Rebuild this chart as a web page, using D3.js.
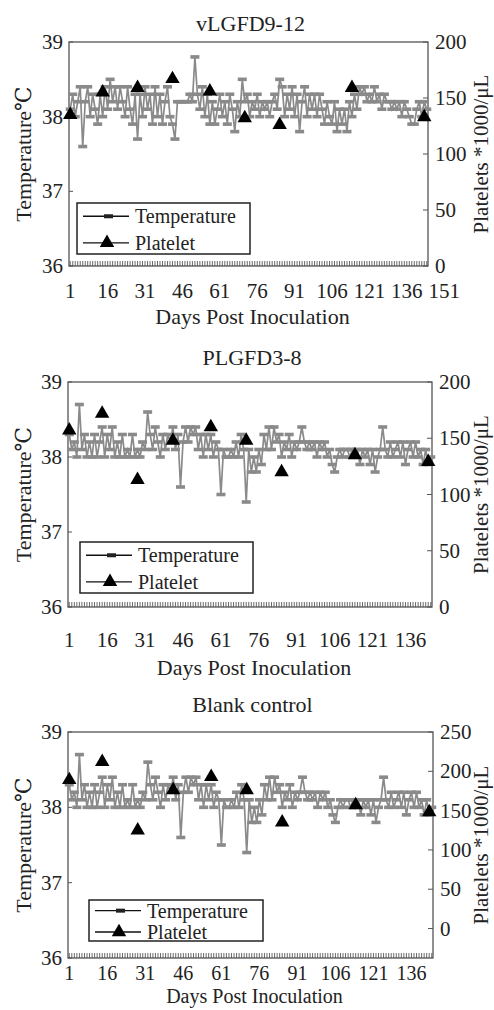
<!DOCTYPE html>
<html lang="en">
<head>
<script src="https://d3js.org/d3.v7.min.js"></script>
<style>
  body { margin: 0; background: #fff; }
  .frame { fill: none; stroke: #555; stroke-width: 1.3px; }
  .temp-line { fill: none; stroke: #8a8a8a; stroke-width: 1.7px; }
  .temp-mark { fill: #8a8a8a; }
  .plt-mark { fill: #000; }
</style>
</head>
<body>
<svg id="chart" width="494" height="1010" font-family="'Liberation Serif', 'DejaVu Serif', serif" fill="#222"></svg>
<script>
// days of temperature readings
const days = d3.range(1, 145);

// vLGFD9-12 temperature (°C)
const temp1 = [
  38.1, 38.3, 38.0, 38.2, 38.4, 37.6, 38.2, 38.4, 38.0, 38.3,
  38.1, 37.9, 38.3, 38.0, 38.4, 38.1, 38.5, 38.2, 38.4, 38.1,
  38.4, 38.2, 38.0, 38.4, 38.1, 37.9, 38.3, 37.7, 38.3, 38.0,
  38.4, 38.1, 38.3, 37.9, 38.4, 38.0, 38.3, 37.9, 38.2, 38.4,
  38.0, 37.9, 37.7, 38.2, 38.2, 38.2, 38.2, 38.2, 38.3, 38.2,
  38.8, 38.3, 38.1, 38.4, 38.0, 38.3, 37.9, 38.2, 37.9, 38.1,
  38.3, 38.0, 38.2, 37.9, 38.3, 38.1, 37.8, 38.2, 38.0, 38.5,
  38.2, 38.3, 38.0, 38.2, 38.1, 38.3, 38.0, 38.2, 38.1, 38.2,
  38.0, 38.2, 38.3, 38.1, 38.5, 38.4, 38.0, 38.3, 38.1, 38.4,
  38.0, 38.3, 37.8, 38.2, 38.4, 38.0, 38.3, 38.1, 38.3, 38.0,
  38.3, 38.1, 37.9, 38.2, 38.0, 37.9, 38.2, 37.8, 38.1, 37.9,
  38.1, 37.8, 38.2, 38.0, 38.3, 38.1, 38.4, 38.3, 38.4, 38.2,
  38.3, 38.2, 38.4, 38.2, 38.3, 38.1, 38.3, 38.2, 38.2, 38.1,
  38.2, 38.1, 38.2, 38.0, 38.2, 38.1, 38.0, 37.9, 37.9, 38.1,
  38.2, 38.0, 38.2, 38.1
];

// PLGFD3-8 and blank control temperature (°C)
const temp2 = [
  38.3, 38.1, 38.2, 38.0, 38.7, 38.1, 38.3, 38.0, 38.2, 38.0,
  38.3, 38.0, 38.2, 38.4, 38.0, 38.3, 38.1, 38.4, 38.0, 38.2,
  38.0, 38.3, 38.0, 38.1, 38.0, 38.3, 38.0, 38.1, 38.0, 38.2,
  38.1, 38.6, 38.3, 38.1, 38.4, 38.2, 38.0, 38.3, 38.1, 38.3,
  38.2, 38.4, 38.1, 38.3, 37.6, 38.2, 38.4, 38.2, 38.4, 38.3,
  38.4, 38.1, 38.3, 38.0, 38.3, 38.1, 38.3, 38.0, 38.2, 38.1,
  37.5, 38.1, 38.0, 38.0, 38.1, 38.0, 38.2, 38.0, 38.3, 38.1,
  37.4, 38.1, 37.8, 38.0, 37.8, 38.1, 37.9, 38.3, 38.1, 38.4,
  38.1, 38.4, 38.2, 38.3, 38.0, 38.2, 38.1, 38.3, 38.0, 38.2,
  38.1, 38.2, 38.4, 38.2, 38.1, 38.2, 38.1, 38.2, 38.0, 38.2,
  38.1, 38.2, 38.0, 38.1, 37.9, 37.8, 38.0, 38.1, 38.0, 38.1,
  38.1, 38.0, 38.1, 38.0, 38.1, 37.9, 38.1, 38.0, 38.1, 37.9,
  38.1, 37.8, 38.0, 38.1, 38.4, 38.1, 38.0, 38.2, 38.0, 38.1,
  38.2, 38.0, 38.2, 37.9, 38.1, 38.2, 38.0, 38.2, 38.0, 38.1,
  37.9, 38.1, 37.9, 38.0
];

// platelet sampling days and counts (*1000/µL)
const pltDays = [1, 14, 28, 42, 57, 71, 85, 114, 143];
const plt1 = [135, 155, 159, 167, 156, 132, 126, 159, 133];
const plt2 = [157, 172, 113, 148, 160, 148, 120, 135, 129];
const plt3 = [189, 212, 125, 176, 193, 176, 135, 157, 148];

const titles = ["vLGFD9-12", "PLGFD3-8", "Blank control"];
const dayLabels1 = [1, 16, 31, 46, 61, 76, 91, 106, 121, 136, 151];
const dayLabels = [1, 16, 31, 46, 61, 76, 91, 106, 121, 136];
const tempTicks = [36, 37, 38, 39];
const pltTicks1 = [0, 50, 100, 150, 200];
const pltTicks3 = [0, 50, 100, 150, 200, 250];

const svg = d3.select("#chart");

const panels = [
  { title: titles[0], temp: temp1, plt: plt1, pDomain: [0, 200], pTicks: pltTicks1, xLabels: dayLabels1,
    left: 69, right: 428, top: 42, bottom: 266, titleY: 31, labY: 298, axTitleY: 324, labSize: 21, axSize: 22,
    legend: { x: 77, y: 203, w: 173, h: 51 } },
  { title: titles[1], temp: temp2, plt: plt2, pDomain: [0, 200], pTicks: pltTicks1, xLabels: dayLabels,
    left: 68, right: 432, top: 382, bottom: 607, titleY: 365, labY: 647, axTitleY: 675, labSize: 21, axSize: 22,
    legend: { x: 80, y: 542, w: 173, h: 51 } },
  { title: titles[2], temp: temp2, plt: plt3, pDomain: [-37.5, 250], pTicks: pltTicks3, xLabels: dayLabels,
    left: 68, right: 433, top: 732, bottom: 958, titleY: 712, labY: 980, axTitleY: 1003, labSize: 20, axSize: 20,
    legend: { x: 89, y: 900, w: 174, h: 41 } }
];

panels.forEach(p => {
  const g = svg.append("g");
  const x = d3.scaleLinear().domain([0.5, 144.5]).range([p.left, p.right]);
  const y = d3.scaleLinear().domain([36, 39]).range([p.bottom, p.top]);
  const y2 = d3.scaleLinear().domain(p.pDomain).range([p.bottom, p.top]);

  // frame
  g.append("rect").attr("class", "frame")
    .attr("x", p.left).attr("y", p.top)
    .attr("width", p.right - p.left).attr("height", p.bottom - p.top);

  // day ticks along the bottom
  g.selectAll("line.dtick").data(days).join("line")
    .attr("x1", d => x(d)).attr("x2", d => x(d))
    .attr("y1", p.bottom).attr("y2", p.bottom - 5)
    .attr("stroke", "#444").attr("stroke-width", 0.8);

  g.selectAll("text.xl").data(p.xLabels).join("text")
    .attr("x", d => x(d)).attr("y", p.labY)
    .attr("text-anchor", "middle").attr("font-size", p.labSize)
    .text(d => d);

  // left axis
  g.selectAll("line.lt").data(tempTicks).join("line")
    .attr("x1", p.left).attr("x2", p.left + 4)
    .attr("y1", d => y(d)).attr("y2", d => y(d))
    .attr("stroke", "#555");
  g.selectAll("text.yl").data(tempTicks).join("text")
    .attr("x", p.left - 6).attr("y", d => y(d) + 7)
    .attr("text-anchor", "end").attr("font-size", 21)
    .text(d => d);

  // right axis
  g.selectAll("line.rt").data(p.pTicks).join("line")
    .attr("x1", p.right).attr("x2", p.right - 5)
    .attr("y1", d => y2(d)).attr("y2", d => y2(d))
    .attr("stroke", "#555");
  g.selectAll("text.yr").data(p.pTicks).join("text")
    .attr("x", p.right + 7).attr("y", d => y2(d) + 7)
    .attr("font-size", 21)
    .text(d => d);

  // titles
  g.append("text").attr("x", (p.left + p.right) / 2 + 2).attr("y", p.titleY)
    .attr("text-anchor", "middle").attr("font-size", 22).text(p.title);
  g.append("text").attr("x", (p.left + p.right) / 2 + 4).attr("y", p.axTitleY)
    .attr("text-anchor", "middle").attr("font-size", p.axSize).text("Days Post Inoculation");
  const midY = (p.top + p.bottom) / 2;
  g.append("text").attr("transform", `translate(31,${midY}) rotate(-90)`)
    .attr("text-anchor", "middle").attr("font-size", 22).text("Temperature℃");
  g.append("text").attr("transform", `translate(488,${midY}) rotate(-90)`)
    .attr("text-anchor", "middle").attr("font-size", 21).text("Platelets *1000/μL");

  // temperature series
  const tdata = days.map((d, i) => ({ day: d, v: p.temp[i] }));
  g.append("path").datum(tdata).attr("class", "temp-line")
    .attr("d", d3.line().x(d => x(d.day)).y(d => y(d.v)));
  g.selectAll("rect.tm").data(tdata).join("rect").attr("class", "temp-mark")
    .attr("x", d => x(d.day) - 4.5).attr("y", d => y(d.v) - 1.8)
    .attr("width", 9).attr("height", 3.6);

  // platelets
  const tri = d3.symbol(d3.symbolTriangle, 90);
  g.selectAll("path.pm").data(pltDays.map((d, i) => ({ day: d, v: p.plt[i] })))
    .join("path").attr("class", "plt-mark")
    .attr("transform", d => `translate(${x(d.day)},${y2(d.v)})`)
    .attr("d", tri);

  // legend
  const L = p.legend;
  const lg = g.append("g").attr("transform", `translate(${L.x},${L.y})`);
  lg.append("rect").attr("width", L.w).attr("height", L.h)
    .attr("fill", "#fff").attr("stroke", "#222").attr("stroke-width", 1.5);
  const r1 = L.h * 0.26, r2 = L.h * 0.78;
  [r1, r2].forEach(ry => lg.append("line").attr("x1", 6).attr("x2", 52)
    .attr("y1", ry).attr("y2", ry).attr("stroke", "#111").attr("stroke-width", 1.3));
  lg.append("rect").attr("x", 27).attr("y", r1 - 2).attr("width", 9).attr("height", 4).attr("fill", "#222");
  lg.append("path").attr("transform", `translate(30,${r2})`).attr("d", tri).attr("fill", "#000");
  lg.append("text").attr("x", 58).attr("y", r1 + 7).attr("font-size", 20).text("Temperature");
  lg.append("text").attr("x", 58).attr("y", r2 + 7).attr("font-size", 20).text("Platelet");
});
</script>
</body>
</html>
